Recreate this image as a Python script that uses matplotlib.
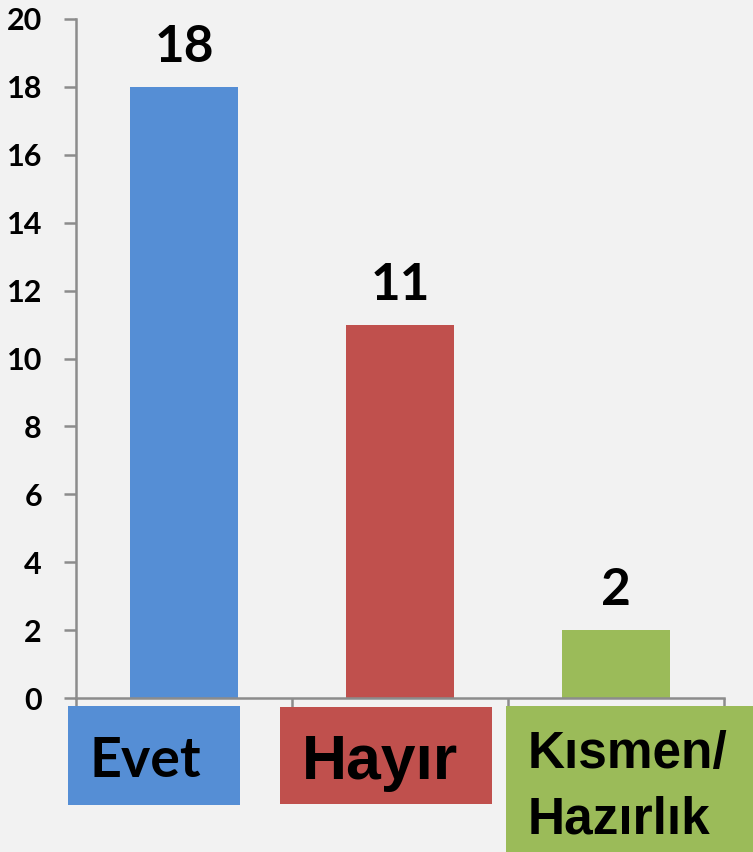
import matplotlib
matplotlib.use("Agg")
import matplotlib.pyplot as plt
from matplotlib.patches import Rectangle

categories = ["Evet", "Hayır", "Kısmen/\nHazırlık"]
values = [18, 11, 2]
colors = ["#558ED5", "#C0504D", "#9BBB59"]
yticks = [0, 2, 4, 6, 8, 10, 12, 14, 16, 18, 20]

W, H = 753, 852
fig = plt.figure(figsize=(W / 100, H / 100), dpi=100)
fig.patch.set_facecolor("#F2F2F2")

def fx(px):
    return px / W

def fy(py):
    return 1 - py / H

ax = fig.add_axes([fx(76), fy(698), fx(724) - fx(76), fy(19) - fy(698)])
ax.set_facecolor("#F2F2F2")

x = list(range(len(categories)))
ax.bar(x, values, width=0.5, color=colors, zorder=2)
ax.set_xlim(-0.5, len(categories) - 0.5)
ax.set_ylim(0, 20)
ax.set_yticks(yticks)
ax.set_yticklabels([str(t) for t in yticks], fontfamily="Lato", fontweight="bold", fontsize=22)

gray = "#8C8C8C"
for s in ["top", "right"]:
    ax.spines[s].set_visible(False)
for s in ["left", "bottom"]:
    ax.spines[s].set_color(gray)
    ax.spines[s].set_linewidth(1.8)
ax.tick_params(axis="y", direction="out", length=8.5, width=1.8, color=gray, pad=16)
ax.set_xticks([-0.5, 0.5, 1.5, 2.5])
ax.set_xticklabels([])
ax.tick_params(axis="x", direction="out", length=6.5, width=1.8, color=gray)
ax.spines["bottom"].set_zorder(3)

for xi, v in zip(x, values):
    ax.annotate(str(v), (xi, v), xytext=(0, 18), textcoords="offset points",
                ha="center", va="baseline", fontfamily="Lato", fontweight="bold",
                fontsize=37, color="black")

# category label boxes
boxes = [(68, 706, 240, 805), (280, 707, 492, 804), (506, 706, 760, 860)]
for (x0, y0, x1, y1), c in zip(boxes, colors):
    fig.patches.append(Rectangle((fx(x0), fy(y1)), fx(x1) - fx(x0), fy(y0) - fy(y1),
                                 transform=fig.transFigure, facecolor=c,
                                 edgecolor="none", zorder=1))

fig.text(fx(145), fy(777), categories[0], ha="center", va="baseline",
         fontfamily="Lato", fontweight="bold", fontsize=40, color="black", zorder=5)
fig.text(fx(380), fy(779), categories[1], ha="center", va="baseline",
         fontfamily="Liberation Sans", fontweight="bold", fontsize=45, color="black", zorder=5)
line1, line2 = categories[2].split("\n")
fig.text(fx(528), fy(768), line1, ha="left", va="baseline",
         fontfamily="Liberation Sans", fontweight="bold", fontsize=37, color="black", zorder=5)
fig.text(fx(528), fy(833), line2, ha="left", va="baseline",
         fontfamily="Liberation Sans", fontweight="bold", fontsize=37, color="black", zorder=5)

fig.savefig("out.png", dpi=100, facecolor=fig.get_facecolor())
